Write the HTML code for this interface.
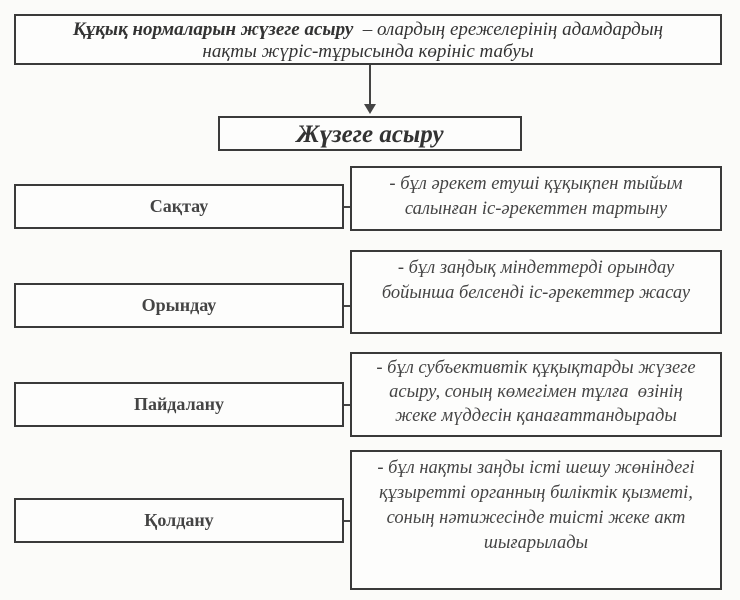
<!DOCTYPE html>
<html><head><meta charset="utf-8"><style>
body{margin:0;width:740px;height:600px;background:#fbfbf9;position:relative;overflow:hidden;font-family:"Liberation Serif",serif;color:#333}
.b{position:absolute;border:2px solid #3a3a3a;box-sizing:border-box;background:#fdfdfc}
.l{display:flex;align-items:center;justify-content:center;font-weight:bold;font-size:18px;color:#444}
.d{font-style:italic;font-size:18.5px;text-align:center;line-height:25px;padding-top:4px;color:#444;white-space:nowrap}
.c{position:absolute;height:2px;background:#444}
</style></head><body>
<div class="b" style="left:14px;top:14px;width:708px;height:51px;text-align:center;font-size:19px;line-height:22px;padding-top:3px;font-style:italic;color:#333;white-space:nowrap">
<b>Құқық нормаларын жүзеге асыру</b> &nbsp;– олардың ережелерінің адамдардың<br>нақты жүріс-тұрысында көрініс табуы</div>
<div style="position:absolute;left:369px;top:65px;width:2px;height:42px;background:#444"></div>
<div style="position:absolute;left:364px;top:104px;width:0;height:0;border-left:6px solid transparent;border-right:6px solid transparent;border-top:10px solid #444"></div>
<div class="b" style="left:218px;top:116px;width:304px;height:35px;text-align:center;font-size:25px;font-weight:bold;font-style:italic;line-height:34px">Жүзеге асыру</div>

<div class="b l" style="left:14px;top:184px;width:330px;height:45px">Сақтау</div>
<div class="c" style="left:344px;top:206px;width:8px"></div>
<div class="b d" style="left:350px;top:166px;width:372px;height:65px">- бұл әрекет етуші құқықпен тыйым<br>салынған іс-әрекеттен тартыну</div>

<div class="b l" style="left:14px;top:283px;width:330px;height:45px">Орындау</div>
<div class="c" style="left:344px;top:305px;width:8px"></div>
<div class="b d" style="left:350px;top:250px;width:372px;height:84px">- бұл заңдық міндеттерді орындау<br>бойынша белсенді іс-әрекеттер жасау</div>

<div class="b l" style="left:14px;top:382px;width:330px;height:45px">Пайдалану</div>
<div class="c" style="left:344px;top:404px;width:8px"></div>
<div class="b d" style="left:350px;top:352px;width:372px;height:85px;line-height:24px;padding-top:2px">- бұл субъективтік құқықтарды жүзеге<br>асыру, соның көмегімен тұлға &nbsp;өзінің<br>жеке мүддесін қанағаттандырады</div>

<div class="b l" style="left:14px;top:498px;width:330px;height:45px">Қолдану</div>
<div class="c" style="left:344px;top:520px;width:8px"></div>
<div class="b d" style="left:350px;top:450px;width:372px;height:140px;line-height:25px">- бұл нақты заңды істі шешу жөніндегі<br>құзыретті органның биліктік қызметі,<br>соның нәтижесінде тиісті жеке акт<br>шығарылады</div>
</body></html>
